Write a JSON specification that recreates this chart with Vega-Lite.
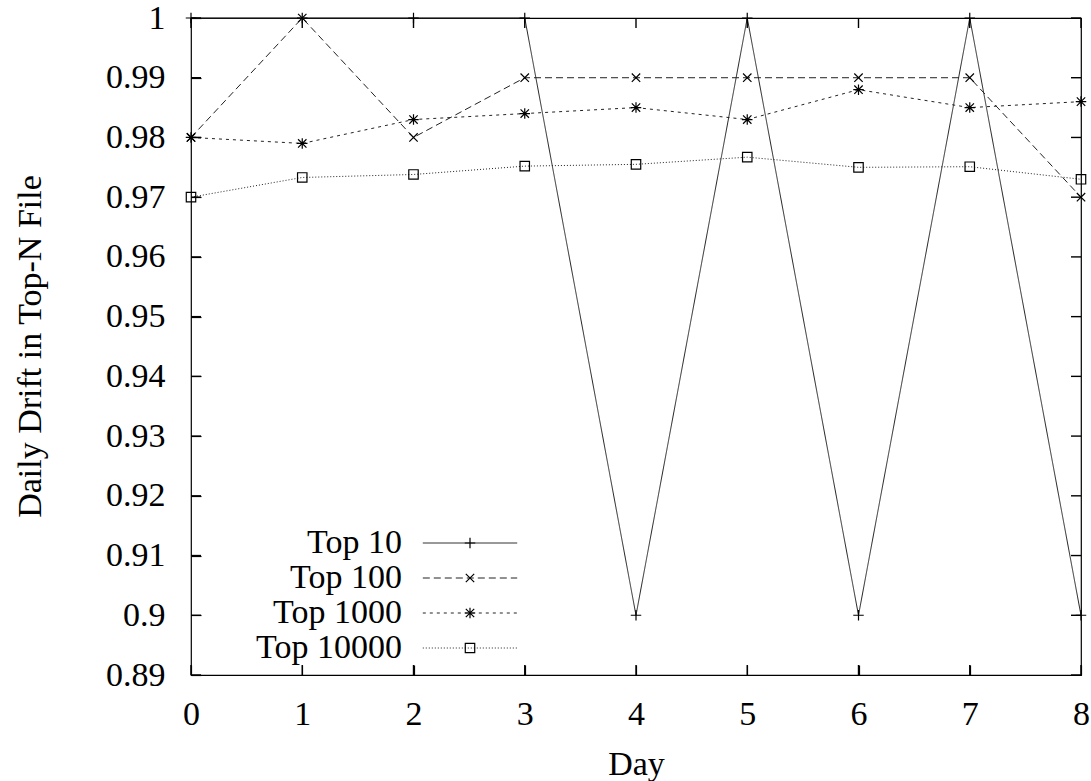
{
  "$schema": "https://vega.github.io/schema/vega-lite/v6.json",
  "width": 890,
  "height": 657,
  "autosize": "none",
  "padding": {"left": 191, "top": 18, "right": 10, "bottom": 106},
  "background": "white",
  "config": {
    "font": "Liberation Serif",
    "view": {"stroke": "black", "strokeWidth": 1.2},
    "axis": {
      "grid": false,
      "domain": false,
      "labelColor": "black",
      "labelFont": "Liberation Serif",
      "labelFontSize": 34,
      "titleFont": "Liberation Serif",
      "titleFontSize": 34,
      "titleFontWeight": "normal",
      "titleColor": "black"
    },
    "legend": {
      "labelFont": "Liberation Serif",
      "labelFontSize": 34,
      "labelColor": "black",
      "labelLimit": 400,
      "padding": 0,
      "rowPadding": 1
    }
  },
  "datasets": {
    "drift": [
      {"day": 0, "series": "Top 10", "value": 1},
      {"day": 1, "series": "Top 10", "value": 1},
      {"day": 2, "series": "Top 10", "value": 1},
      {"day": 3, "series": "Top 10", "value": 1},
      {"day": 4, "series": "Top 10", "value": 0.9},
      {"day": 5, "series": "Top 10", "value": 1},
      {"day": 6, "series": "Top 10", "value": 0.9},
      {"day": 7, "series": "Top 10", "value": 1},
      {"day": 8, "series": "Top 10", "value": 0.9},
      {"day": 0, "series": "Top 100", "value": 0.98},
      {"day": 1, "series": "Top 100", "value": 1},
      {"day": 2, "series": "Top 100", "value": 0.98},
      {"day": 3, "series": "Top 100", "value": 0.99},
      {"day": 4, "series": "Top 100", "value": 0.99},
      {"day": 5, "series": "Top 100", "value": 0.99},
      {"day": 6, "series": "Top 100", "value": 0.99},
      {"day": 7, "series": "Top 100", "value": 0.99},
      {"day": 8, "series": "Top 100", "value": 0.97},
      {"day": 0, "series": "Top 1000", "value": 0.980},
      {"day": 1, "series": "Top 1000", "value": 0.979},
      {"day": 2, "series": "Top 1000", "value": 0.983},
      {"day": 3, "series": "Top 1000", "value": 0.984},
      {"day": 4, "series": "Top 1000", "value": 0.985},
      {"day": 5, "series": "Top 1000", "value": 0.983},
      {"day": 6, "series": "Top 1000", "value": 0.988},
      {"day": 7, "series": "Top 1000", "value": 0.985},
      {"day": 8, "series": "Top 1000", "value": 0.986},
      {"day": 0, "series": "Top 10000", "value": 0.9700},
      {"day": 1, "series": "Top 10000", "value": 0.9733},
      {"day": 2, "series": "Top 10000", "value": 0.9738},
      {"day": 3, "series": "Top 10000", "value": 0.9752},
      {"day": 4, "series": "Top 10000", "value": 0.9755},
      {"day": 5, "series": "Top 10000", "value": 0.9767},
      {"day": 6, "series": "Top 10000", "value": 0.9750},
      {"day": 7, "series": "Top 10000", "value": 0.9751},
      {"day": 8, "series": "Top 10000", "value": 0.9730}
    ],
    "xticks": [
      {"day": 0}, {"day": 1}, {"day": 2}, {"day": 3}, {"day": 4},
      {"day": 5}, {"day": 6}, {"day": 7}, {"day": 8}
    ],
    "yticks": [
      {"value": 0.89}, {"value": 0.9}, {"value": 0.91}, {"value": 0.92},
      {"value": 0.93}, {"value": 0.94}, {"value": 0.95}, {"value": 0.96},
      {"value": 0.97}, {"value": 0.98}, {"value": 0.99}, {"value": 1}
    ]
  },
  "layer": [
    {
      "data": {"name": "drift"},
      "mark": {"type": "line", "strokeWidth": 1, "color": "#222222", "clip": false},
      "encoding": {
        "x": {
          "field": "day", "type": "quantitative",
          "scale": {"domain": [0, 8], "nice": false, "zero": false},
          "axis": {
            "orient": "bottom",
            "values": [0, 1, 2, 3, 4, 5, 6, 7, 8],
            "ticks": true,
            "tickSize": -10,
            "tickColor": "black",
            "tickWidth": 1.2,
            "domain": false,
            "grid": false,
            "labelPadding": 32,
            "title": "Day",
            "titleX": 445,
            "titleY": 99,
            "titleAlign": "center",
            "titleBaseline": "alphabetic",
            "labelFlush": false
          }
        },
        "y": {
          "field": "value", "type": "quantitative",
          "scale": {"domain": [0.89, 1], "nice": false, "zero": false},
          "axis": {
            "orient": "left",
            "values": [0.89, 0.9, 0.91, 0.92, 0.93, 0.94, 0.95, 0.96, 0.97, 0.98, 0.99, 1],
            "format": "~g",
            "ticks": true,
            "tickSize": -10,
            "tickColor": "black",
            "tickWidth": 1.2,
            "domain": false,
            "grid": false,
            "labelPadding": 36,
            "title": "Daily Drift in Top-N File",
            "titleX": -161,
            "titleY": 328,
            "titleAngle": 270,
            "titleAlign": "center",
            "titleBaseline": "middle",
            "labelFlush": false
          }
        },
        "strokeDash": {
          "field": "series", "type": "nominal",
          "scale": {
            "domain": ["Top 10", "Top 100", "Top 1000", "Top 10000"],
            "range": [[1, 0], [7, 4], [3, 4], [1, 2]]
          },
          "legend": {
            "orient": "none",
            "legendX": 262,
            "legendY": 508,
            "title": null,
            "symbolType": "M-9,0L9,0",
            "symbolSize": 110,
            "symbolStrokeWidth": 1,
            "symbolStrokeColor": "#222222",
            "symbolOpacity": 1,
            "labelAlign": "right",
            "labelOffset": -85
          }
        }
      }
    },
    {
      "data": {"name": "drift"},
      "transform": [{"fold": ["series"], "as": ["key", "name"]}],
      "mark": {"type": "point", "filled": false, "strokeWidth": 1.2, "color": "black", "size": 110, "opacity": 1, "clip": false},
      "encoding": {
        "x": {"field": "day", "type": "quantitative", "axis": null},
        "y": {"field": "value", "type": "quantitative", "axis": null},
        "shape": {
          "field": "name", "type": "nominal",
          "scale": {
            "range": [
              "M-1,0L1,0M0,-1L0,1",
              "M-0.8,-0.8L0.8,0.8M-0.8,0.8L0.8,-0.8",
              "M-0.8,-0.8L0.8,0.8M-0.8,0.8L0.8,-0.8M-1,0L1,0M0,-1L0,1",
              "M-0.9,-0.9L0.9,-0.9L0.9,0.9L-0.9,0.9Z"
            ]
          },
          "legend": {
            "orient": "none",
            "legendX": 262,
            "legendY": 508,
            "title": null,
            "symbolSize": 110,
            "symbolStrokeColor": "black",
            "symbolFillColor": "white",
            "symbolStrokeWidth": 1.2,
            "labelOpacity": 0
          }
        }
      }
    },
    {
      "data": {"name": "xticks"},
      "mark": {"type": "point", "shape": "M0,0L0,-1", "size": 400, "filled": false, "strokeWidth": 1.4, "color": "black", "opacity": 1, "clip": false},
      "encoding": {
        "x": {"field": "day", "type": "quantitative", "axis": null},
        "y": {"datum": 0.89, "type": "quantitative", "axis": null}
      }
    },
    {
      "data": {"name": "xticks"},
      "mark": {"type": "point", "shape": "M0,0L0,1", "size": 400, "filled": false, "strokeWidth": 1.4, "color": "black", "opacity": 1, "clip": false},
      "encoding": {
        "x": {"field": "day", "type": "quantitative", "axis": null},
        "y": {"datum": 1, "type": "quantitative", "axis": null}
      }
    },
    {
      "data": {"name": "yticks"},
      "mark": {"type": "point", "shape": "M0,0L1,0", "size": 400, "filled": false, "strokeWidth": 1.4, "color": "black", "opacity": 1, "clip": false},
      "encoding": {
        "y": {"field": "value", "type": "quantitative", "axis": null},
        "x": {"datum": 0, "type": "quantitative", "axis": null}
      }
    },
    {
      "data": {"name": "yticks"},
      "mark": {"type": "point", "shape": "M0,0L-1,0", "size": 400, "filled": false, "strokeWidth": 1.4, "color": "black", "opacity": 1, "clip": false},
      "encoding": {
        "y": {"field": "value", "type": "quantitative", "axis": null},
        "x": {"datum": 8, "type": "quantitative", "axis": null}
      }
    }
  ],
  "resolve": {"axis": {"x": "independent", "y": "independent"}}
}
